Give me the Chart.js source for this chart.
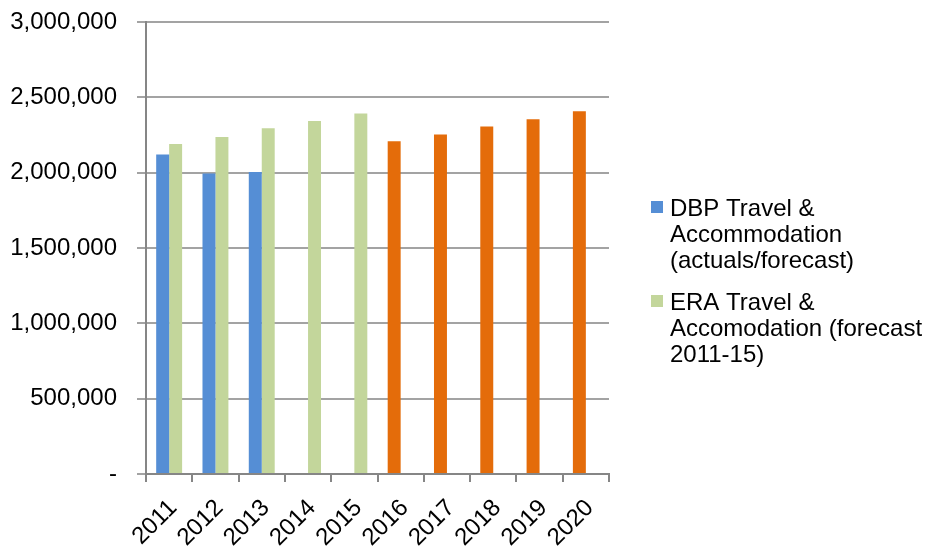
<!DOCTYPE html>
<html>
<head>
<meta charset="utf-8">
<script src="https://cdn.jsdelivr.net/npm/chart.js@4/dist/chart.umd.min.js"></script>
<style>
  html, body { margin: 0; padding: 0; background: #ffffff; }
  #wrap { width: 925px; height: 547px; }
</style>
</head>
<body>
<div id="wrap"><canvas id="chart" width="925" height="547"></canvas></div>
<script>
// Categories and series
const years = ['2011', '2012', '2013', '2014', '2015', '2016', '2017', '2018', '2019', '2020'];
const dbpValues = [2120000, 1995000, 2005000, null, null, 2208000, 2254000, 2307000, 2354000, 2407000];
const eraValues = [2190000, 2237000, 2294000, 2343000, 2392000, null, null, null, null, null];
// DBP actuals are blue, later forecast years are orange
const dbpIsForecast = [false, false, false, false, false, true, true, true, true, true];
const yTickValues = [0, 500000, 1000000, 1500000, 2000000, 2500000, 3000000];

const dbpLabel = 'DBP Travel & Accommodation (actuals/forecast)';
const eraLabel = 'ERA Travel & Accomodation (forecast 2011-15)';
const dbpLegendLines = ['DBP Travel &', 'Accommodation', '(actuals/forecast)'];
const eraLegendLines = ['ERA Travel &', 'Accomodation (forecast', '2011-15)'];

const BLUE = '#558ed5';
const ORANGE = '#e46c0a';
const GREEN = '#c3d69b';
const FONT = '"Liberation Sans", Arial, sans-serif';
const FONT_SIZE = 24;

// Legend drawn on the right, with wrapped labels
const sideLegend = {
  id: 'sideLegend',
  afterDraw(chart) {
    const ctx = chart.ctx;
    const groups = [
      { color: BLUE, lines: dbpLegendLines, baseline: 216 },
      { color: GREEN, lines: eraLegendLines, baseline: 310 }
    ];
    ctx.save();
    ctx.font = FONT_SIZE + 'px ' + FONT;
    ctx.textAlign = 'left';
    ctx.textBaseline = 'alphabetic';
    groups.forEach(g => {
      ctx.fillStyle = g.color;
      ctx.fillRect(651, g.baseline - 15, 12, 12);
      ctx.fillStyle = '#000000';
      g.lines.forEach((line, i) => {
        ctx.fillText(line, 670, g.baseline + i * 26);
      });
    });
    ctx.restore();
  }
};

new Chart(document.getElementById('chart'), {
  type: 'bar',
  data: {
    labels: years,
    datasets: [
      {
        label: dbpLabel,
        data: dbpValues,
        backgroundColor: dbpIsForecast.map(f => f ? ORANGE : BLUE),
        borderWidth: 0
      },
      {
        label: eraLabel,
        data: eraValues,
        backgroundColor: GREEN,
        borderWidth: 0
      }
    ]
  },
  options: {
    responsive: false,
    animation: false,
    layout: { padding: { left: 0, right: 316, top: 22, bottom: 0 } },
    datasets: {
      bar: { categoryPercentage: 0.56, barPercentage: 1.0 }
    },
    plugins: {
      legend: { display: false },
      tooltip: { enabled: false }
    },
    scales: {
      x: {
        offset: true,
        grid: {
          offset: true,
          drawOnChartArea: false,
          drawTicks: true,
          tickLength: 8,
          color: '#868686',
          lineWidth: 2
        },
        border: { color: '#868686', width: 2 },
        ticks: {
          color: '#000000',
          font: { family: FONT, size: FONT_SIZE },
          minRotation: 45,
          maxRotation: 45,
          padding: 12,
          labelOffset: 4
        },
        afterFit(scale) {
          scale.height = 73;
          scale.paddingTop = 0;
        }
      },
      y: {
        min: 0,
        max: 3000000,
        afterBuildTicks(scale) {
          scale.ticks = yTickValues.map(v => ({ value: v }));
        },
        grid: {
          color: '#a3a3a3',
          lineWidth: 2,
          tickLength: 9
        },
        border: { color: '#868686', width: 2 },
        ticks: {
          color: '#000000',
          font: { family: FONT, size: FONT_SIZE },
          padding: 20,
          callback(v) {
            return v === 0 ? '-' : Number(v).toLocaleString('en-US');
          }
        },
        afterFit(scale) {
          scale.width = 146;
          scale.paddingTop = 0;
          scale.paddingBottom = 0;
        }
      }
    }
  },
  plugins: [sideLegend]
});
</script>
</body>
</html>
